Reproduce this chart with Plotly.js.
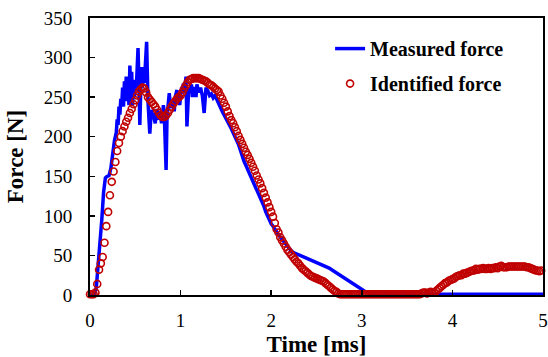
<!DOCTYPE html>
<html>
<head>
<meta charset="utf-8">
<script src="https://cdn.plot.ly/plotly-3.0.1.min.js"></script>
<style>html,body{margin:0;padding:0;background:#fff;}#chart{width:548px;height:357px;}</style>
</head>
<body>
<div id="chart"></div>
<script>
// Measured force (blue line): time [ms] and force [N]
var measuredTime = [0,0.05,0.07,0.09,0.11,0.13,0.15,0.17,0.19,0.21,0.23,0.25,0.27,0.29,0.30,0.31,0.32,0.33,0.34,0.35,0.36,0.37,0.38,0.39,0.40,0.41,0.42,0.43,0.44,0.45,0.46,0.47,0.48,0.49,0.50,0.51,0.52,0.53,0.54,0.55,0.56,0.57,0.58,0.59,0.60,0.61,0.625,0.64,0.65,0.66,0.67,0.68,0.69,0.70,0.71,0.72,0.73,0.74,0.75,0.76,0.77,0.78,0.79,0.80,0.81,0.82,0.83,0.84,0.85,0.86,0.875,0.89,0.90,0.91,0.92,0.93,0.94,0.96,0.97,0.98,0.99,1.00,1.01,1.02,1.03,1.04,1.05,1.06,1.07,1.08,1.09,1.10,1.12,1.13,1.14,1.16,1.17,1.18,1.20,1.22,1.24,1.26,1.27,1.28,1.30,1.32,1.34,1.36,1.38,1.40,1.42,1.44,1.46,1.48,1.50,1.52,1.54,1.56,1.58,1.60,1.62,1.64,1.66,1.68,1.70,1.72,1.74,1.76,1.78,1.80,1.82,1.84,1.86,1.88,1.90,1.92,1.94,1.96,1.98,2.00,2.02,2.04,2.06,2.08,2.10,2.12,2.14,2.16,2.18,2.20,2.22,2.24,2.26,2.28,2.30,2.32,2.36,2.40,2.44,2.48,2.52,2.56,2.60,2.64,2.68,2.72,2.76,2.80,2.84,2.88,2.92,2.96,3.00,3.04,3.08,3.12,3.5,4.0,4.5,5.0];
var measuredForce = [0,0,10,35,60,95,130,148,150,151,160,178,195,205,222,215,238,228,248,240,262,238,270,250,276,245,262,240,290,258,282,240,262,250,272,258,290,312,270,215,258,288,262,284,268,290,320,245,215,204,222,234,225,230,222,217,228,235,224,222,232,226,217,225,240,228,200,158,225,240,255,236,240,246,244,232,250,259,245,248,240,252,262,256,267,255,265,276,213,250,262,255,266,250,259,262,250,266,256,262,252,230,250,262,258,252,254,249,252,246,243,237,232,228,222,218,214,210,205,200,196,190,183,175,169,164,159,153,148,142,137,132,128,124,118,112,105,99,94,90,87,84,80,76,73,70,67,64,61,59,56,54,53,52,51,50,48,47,45,43,41,39,36,34,31,28,25,21,18,15,12,10,6,4,2,1,1,1,1,1];

// Identified force (red circles)
var identifiedTime = [0,0.02,0.04,0.06,0.08,0.10,0.12,0.14,0.16,0.18,0.20,0.22,0.24,0.26,0.28,0.30,0.32,0.34,0.36,0.38,0.40,0.42,0.44,0.46,0.48,0.50,0.52,0.54,0.56,0.58,0.60,0.62,0.64,0.66,0.68,0.70,0.72,0.74,0.76,0.78,0.80,0.82,0.84,0.86,0.88,0.90,0.92,0.94,0.96,0.98,1.00,1.02,1.04,1.06,1.08,1.10,1.12,1.14,1.16,1.18,1.20,1.22,1.24,1.26,1.28,1.30,1.32,1.34,1.36,1.38,1.40,1.42,1.44,1.46,1.48,1.50,1.52,1.54,1.56,1.58,1.60,1.62,1.64,1.66,1.68,1.70,1.72,1.74,1.76,1.78,1.80,1.82,1.84,1.86,1.88,1.90,1.92,1.94,1.96,1.98,2.00,2.02,2.04,2.06,2.08,2.10,2.12,2.14,2.16,2.18,2.20,2.22,2.24,2.26,2.28,2.30,2.32,2.34,2.36,2.38,2.40,2.42,2.44,2.46,2.48,2.50,2.52,2.54,2.56,2.58,2.60,2.62,2.64,2.66,2.68,2.70,2.72,2.74,2.76,2.78,2.80,2.82,2.84,2.86,2.88,2.90,2.92,2.94,2.96,2.98,3.00,3.02,3.04,3.06,3.08,3.10,3.12,3.14,3.16,3.18,3.20,3.22,3.24,3.26,3.28,3.30,3.32,3.34,3.36,3.38,3.40,3.42,3.44,3.46,3.48,3.50,3.52,3.54,3.56,3.58,3.60,3.62,3.64,3.66,3.68,3.70,3.72,3.74,3.76,3.78,3.80,3.82,3.84,3.86,3.88,3.90,3.92,3.94,3.96,3.98,4.00,4.02,4.04,4.06,4.08,4.10,4.12,4.14,4.16,4.18,4.20,4.22,4.24,4.26,4.28,4.30,4.32,4.34,4.36,4.38,4.40,4.42,4.44,4.46,4.48,4.50,4.52,4.54,4.56,4.58,4.60,4.62,4.64,4.66,4.68,4.70,4.72,4.74,4.76,4.78,4.80,4.82,4.84,4.86,4.88,4.90,4.92,4.94,4.96,4.98,5.00];
var identifiedForce = [1,1,1,3,14,32,40,48,66,87,105,126,143,156,168,182,192,200,207,213,219,224,230,235,241,246,252,257,260,262,261,256,250,247,244,241,238,234,230,227,225,225,227,230,234,238,242,245,248,250,252,256,261,265,269,272,273,274,274,274,274,273,272,271,270,268,266,265,263,261,259,257,252,248,243,238,232,226,221,217,212,207,201,196,191,186,181,177,172,167,162,157,151,146,141,135,129,123,117,111,105,99,91,83,79,73,69,65,61,57,54,51,48,45,42,40,37,34,32,30,28,26,24,23,22,21,20,19,18,17,15,13,11,9,7,5,4,2,1,1,1,1,1,1,1,1,1,1,1,1,1,1,1,1,1,1,1,1,1,1,1,1,1,1,1,1,1,1,1,1,1,1,1,1,1,1,1,1,1,1,1,1,1,2,3,3,2,3,4,3,3,5,7,9,11,13,15,16,18,19,20,21,23,24,25,25,27,27,28,29,30,31,31,33,32,33,33,34,33,33,34,33,34,34,35,34,36,37,35,35,35,36,36,36,36,36,36,36,36,36,36,35,35,34,33,32,31,31,30,31];

var xTicks = [0,1,2,3,4,5];
var yTicks = [0,50,100,150,200,250,300,350];

var serif = 'Liberation Serif';

var traces = [
  {
    x: measuredTime, y: measuredForce, type: 'scatter', mode: 'lines',
    name: 'Measured force', legendgroup: 'a',
    line: {color: '#0000FF', width: 3.5},
    cliponaxis: false
  },
  {
    x: identifiedTime, y: identifiedForce, type: 'scatter', mode: 'markers',
    name: 'Identified force', legendgroup: 'b',
    marker: {symbol: 'circle-open', size: 7, color: '#C00000', line: {width: 1.6, color: '#C00000'}},
    cliponaxis: false
  }
];

var layout = {
  width: 548, height: 357,
  margin: {l: 90, r: 5, t: 18, b: 62},
  paper_bgcolor: '#fff', plot_bgcolor: '#fff',
  font: {family: serif, color: '#000', size: 19},
  showlegend: true,
  legend: {
    x: 0.53, y: 0.96, xanchor: 'left', yanchor: 'top',
    bgcolor: 'rgba(0,0,0,0)', traceorder: 'grouped', tracegroupgap: 6,
    font: {family: serif, size: 20, color: '#000', weight: 'bold'}
  },
  xaxis: {
    range: [0, 5], tickvals: xTicks, ticktext: xTicks.map(String),
    showgrid: false, zeroline: false,
    showline: true, linecolor: '#000', linewidth: 2, mirror: true,
    ticks: 'inside', ticklen: 5, tickwidth: 1.5, tickcolor: '#000',
    ticklabelstandoff: 7,
    tickfont: {family: serif, size: 19, color: '#000'},
    title: {text: '<b>Time [ms]</b>', font: {family: serif, size: 23, color: '#000'}, standoff: 6}
  },
  yaxis: {
    range: [0, 350], tickvals: yTicks, ticktext: yTicks.map(String),
    showgrid: false, zeroline: false,
    showline: true, linecolor: '#000', linewidth: 2, mirror: true,
    ticks: 'inside', ticklen: 5, tickwidth: 1.5, tickcolor: '#000',
    ticklabelstandoff: 12,
    tickfont: {family: serif, size: 19, color: '#000'},
    title: {text: '<b>Force [N]</b>', font: {family: serif, size: 23, color: '#000'}, standoff: 14}
  }
};

Plotly.newPlot('chart', traces, layout, {displayModeBar: false, staticPlot: true});
</script>
</body>
</html>
